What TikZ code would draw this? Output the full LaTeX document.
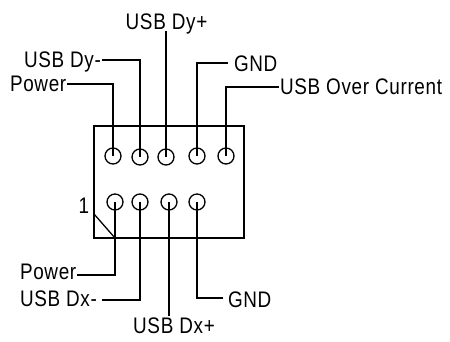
\documentclass[tikz,border=0pt]{standalone}
\usepackage{fontspec}
\setmainfont[FakeStretch=0.84,LetterSpace=3]{Liberation Sans}
\tikzset{
	lbl/.style={inner sep=0pt, outer sep=1pt, text height=16pt, text depth=0pt, font=\fontsize{22.5}{22.5}\selectfont},
	pin/.style={draw, circle, line width=1.3pt, minimum size=16pt, inner sep=0pt},
	wire/.style={line width=1.3pt}
}
\begin{document}
\begin{tikzpicture}[x=1pt, y=-1pt]
	\useasboundingbox (0,0) rectangle (450,342);
	% HEADER
	\node (hdr) at (169,182) [draw, line width=1.3pt, minimum width=150pt, minimum height=112pt] {};
	\coordinate (notchA) at (94,214);
	\coordinate (notchB) at (115,238);
	\draw[wire] (notchA) -- (notchB);
	% PINS
	\node (pinT1) at (113,156) [pin] {};
	\node (pinT2) at (140,157) [pin] {};
	\node (pinT3) at (166,157) [pin] {};
	\node (pinT4) at (197,156) [pin] {};
	\node (pinT5) at (226,156) [pin] {};

	\node (pinB1) at (115,202) [pin] {};
	\node (pinB2) at (140,202) [pin] {};
	\node (pinB3) at (169,202) [pin] {};
	\node (pinB4) at (197,202) [pin] {};
	% LABELS
	\node (dyp) at (166.5,22) [lbl] {USB Dy+};
	\node (dym) at (23,60) [lbl, anchor=west] {USB Dy-};
	\node (pwrT) at (9,84) [lbl, anchor=west] {Power};
	\node (gndT) at (233,64) [lbl, anchor=west] {GND};
	\node (ovc) at (279,87) [lbl, anchor=west] {USB Over Current};

	\node (one) at (84,206) [lbl] {1};

	\node (pwrB) at (19,271) [lbl, anchor=west] {Power};
	\node (dxm) at (19,298) [lbl, anchor=west] {USB Dx-};
	\node (dxp) at (174,325) [lbl] {USB Dx+};
	\node (gndB) at (227,299) [lbl, anchor=west] {GND};
	% WIRES
	\draw[wire] (pwrT.east) -| (pinT1.center);
	\draw[wire] (dym.east) -| (pinT2.center);
	\draw[wire] (pinT3.center) -- (pinT3.center |- dyp.south);
	\draw[wire] (gndT.west) ++(-5,-1) -| (pinT4.center);
	\draw[wire] (ovc.west) -| (pinT5.center);

	\draw[wire] (pwrB.east) ++(0,4) -| (pinB1.center);
	\draw[wire] (dxm.east) ++(4,2) -| (pinB2.center);
	\draw[wire] (pinB3.center) -- (pinB3.center |- dxp.north);
	\draw[wire] (gndB.west) ++(-4,-1) -| (pinB4.center);
\end{tikzpicture}
\end{document}
